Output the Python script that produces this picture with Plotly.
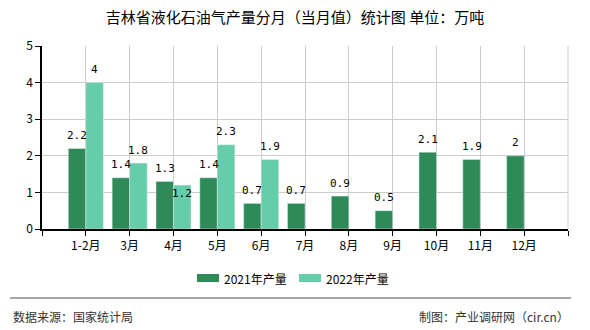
import plotly.graph_objects as go

categories = ["1-2月", "3月", "4月", "5月", "6月", "7月", "8月", "9月", "10月", "11月", "12月"]
values_2021 = [2.2, 1.4, 1.3, 1.4, 0.7, 0.7, 0.9, 0.5, 2.1, 1.9, 2]
values_2022 = [4, 1.8, 1.2, 2.3, 1.9, None, None, None, None, None, None]
series_names = ["2021年产量", "2022年产量"]
series_colors = ["#2E8B57", "#66CDAA"]
y_ticks = [0, 1, 2, 3, 4, 5]

W, H = 590, 330
L, R, T, B = 42, 22, 46, 101
PW, PH = W - L - R, H - T - B

def px(x):
    return (x - L) / PW

def py(y):
    return (H - B - y) / PH

xpos = list(range(len(categories)))
label_font = dict(family="DejaVu Sans Mono, monospace", size=11, color="#000")

def fmt(v):
    return "" if v is None else ("%g" % v)

fig = go.Figure()
for vals, name, col in [(values_2021, series_names[0], series_colors[0]),
                        (values_2022, series_names[1], series_colors[1])]:
    fig.add_trace(go.Bar(x=xpos, y=vals, name=name, marker_color=col,
                         showlegend=False, hoverinfo="x+y+name"))

# value labels (with overlap avoidance like the reference)
cat_px = PW / 12.0
half = cat_px * 0.8 / 4
for i in xpos:
    a, b = values_2021[i], values_2022[i]
    shifts = [13, 13]
    if a is not None and b is not None and abs(a - b) < 0.25:
        if b <= a:
            shifts[1] = -8
        else:
            shifts[0] = -8
    for k, (v, xs) in enumerate([(a, -half), (b, half)]):
        if v is None:
            continue
        fig.add_annotation(x=i, y=v, xref="x", yref="y", text=fmt(v), showarrow=False,
                           xshift=xs, yshift=shifts[k], font=label_font,
                           xanchor="center", yanchor="middle")

fig.update_layout(
    width=W, height=H,
    margin=dict(l=L, r=R, t=T, b=B),
    paper_bgcolor="white", plot_bgcolor="white",
    barmode="group", bargap=0.2, bargroupgap=0,
    font=dict(family="Noto Sans CJK SC, sans-serif", size=12, color="#000"),
    title=dict(text="吉林省液化石油气产量分月（当月值）统计图 单位：万吨", x=0.5, xanchor="center",
               y=1 - 18/330, yanchor="middle", font=dict(size=15, color="#000")),
    showlegend=False,
)
fig.update_xaxes(
    range=[-1, 11], tickmode="array", tickvals=list(range(-1, 12)),
    ticktext=[""] + categories + [""],
    showgrid=True, gridcolor="#cccccc", gridwidth=1,
    showline=True, linecolor="#000", linewidth=1.5,
    ticks="outside", ticklen=5, tickcolor="#000",
    tickfont=dict(size=12, color="#000"), zeroline=False, fixedrange=True,
)
fig.update_yaxes(
    range=[0, 5], tickmode="array", tickvals=y_ticks,
    showgrid=True, gridcolor="#cccccc", gridwidth=1,
    showline=True, linecolor="#000", linewidth=1.5,
    ticks="outside", ticklen=5, tickcolor="#000",
    tickfont=dict(size=12, color="#000"), zeroline=False, fixedrange=True,
)
# right border line of plot
fig.add_shape(type="line", xref="paper", yref="paper", x0=1, x1=1, y0=0, y1=1,
              line=dict(color="#cccccc", width=1))

# custom legend
legend_x = [197, 299]
for lx, name, col in zip(legend_x, series_names, series_colors):
    fig.add_shape(type="rect", xref="paper", yref="paper",
                  x0=px(lx), x1=px(lx + 22), y0=py(282), y1=py(274),
                  fillcolor=col, line=dict(width=0))
    fig.add_annotation(text=name, xref="paper", yref="paper",
                       x=px(lx + 25), xanchor="left", y=py(278), yanchor="middle",
                       showarrow=False, font=dict(size=12, color="#000"))

# separator line
fig.add_shape(type="line", xref="paper", yref="paper",
              x0=px(10), x1=px(571), y0=py(298), y1=py(298),
              line=dict(color="#888888", width=1.5))
fig.add_annotation(text="数据来源：国家统计局", xref="paper", yref="paper",
                   x=px(11), xanchor="left", y=py(316), yanchor="middle",
                   showarrow=False, font=dict(size=12, color="#333"))
fig.add_annotation(text="制图：产业调研网（cir.cn）", xref="paper", yref="paper",
                   x=px(571), xanchor="right", y=py(316), yanchor="middle",
                   showarrow=False, font=dict(size=12, color="#333"))

fig.write_html("out.html")
